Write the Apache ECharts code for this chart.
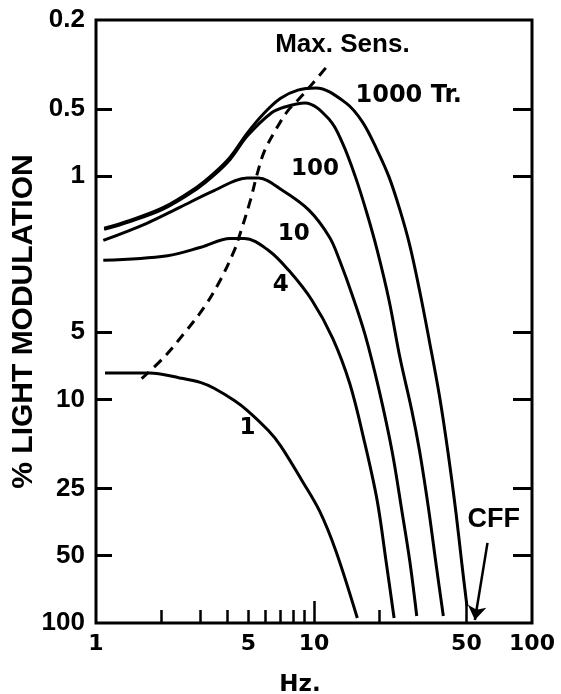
<!DOCTYPE html>
<html>
<head>
<meta charset="utf-8">
<script src="https://cdn.jsdelivr.net/npm/echarts@6/dist/echarts.min.js"></script>
<style>
html, body { margin: 0; padding: 0; background: #fff; }
#chart { width: 561px; height: 694px; }
</style>
</head>
<body>
<div id="chart"></div>
<script>
// values: [Hz, % light modulation]
const tr1000 = [[1.09,1.71],[1.42,1.58],[2.04,1.38],[2.9,1.12],[3.48,0.97],[4.13,0.82],[4.95,0.64],[5.93,0.52],[7.03,0.448],[8.43,0.412],[10.2,0.403],[14,0.47],[16.7,0.573],[19.5,0.766],[22.1,1.01],[24.8,1.42],[27.5,2.04],[30.5,3.25],[33.8,5.45],[37.6,9.6],[41.2,17.3],[44.8,32.1],[47.8,55.6],[50.3,84]];
const tr100 = [[1.09,1.73],[1.42,1.6],[2.04,1.4],[2.9,1.14],[3.48,0.99],[4.13,0.84],[4.95,0.66],[6.39,0.52],[7.34,0.49],[9.08,0.47],[11.8,0.56],[13.5,0.71],[15.5,1.01],[17.5,1.47],[19.5,2.15],[22.1,3.6],[24.8,6.5],[28.1,11.2],[30.5,17],[33.5,30.6],[36.4,55.6],[39.2,93]];
const tr10 = [[1.08,1.94],[1.7,1.63],[2.42,1.38],[3.48,1.16],[4.95,1.02],[5.56,1.02],[7.18,1.16],[9.48,1.42],[11.8,1.88],[13.1,2.38],[15,3.42],[17.2,5.17],[19.9,9.1],[22.8,17],[25.3,31.5],[27.5,52.8],[29.6,93]];
const tr4 = [[1.08,2.38],[2.13,2.27],[3.03,2.08],[4.13,1.9],[4.79,1.9],[6.19,2.15],[7.66,2.64],[9.8,3.6],[12.2,5.33],[14.6,8.5],[17,15.3],[19.5,28.4],[21.4,52.8],[23.3,95]];
const tr1 = [[1.1,7.6],[1.76,7.6],[2.42,8.0],[3.03,8.4],[3.48,8.9],[4.31,10.1],[4.95,11.2],[6.19,13.8],[7.03,16.1],[8.8,23],[10.6,31.5],[12.6,47.6],[15.8,95]];
const maxSens = [[1.62,8.06],[2.04,6.5],[2.53,5.07],[3.13,3.87],[3.71,2.93],[4.31,2.15],[4.59,1.8],[5.11,1.28],[5.5,0.97],[5.93,0.77],[6.81,0.6],[7.58,0.51],[8.43,0.457],[9.9,0.383],[11.8,0.312]];

const xLabels = [1, 5, 10, 50, 100];
const xMinorTicks = [2, 3, 4, 5, 6, 7, 8, 9, 20];
const xMajorTicks = [10, 50];
const yLabels = [0.2, 0.5, 1, 5, 10, 25, 50, 100];
const yTicks = [0.5, 1, 5, 10, 25, 50];

const annoText = ['Max. Sens.', '1000 Tr.', '100', '10', '4', '1', 'CFF'];
const annoPos = [[13.5,0.259],[27.2,0.438],[10.1,0.93],[8.08,1.82],[7.03,3.08],[4.95,13.4],[66.7,34.6]];
const cffArrow = [[62.5,43.8],[54.7,97]];

const lg = v => Math.log10(v);
const toLog = arr => arr.map(p => [lg(p[0]), lg(p[1])]);
const fmt = v => String(parseFloat(Math.pow(10, v).toPrecision(3)));

const chart = echarts.init(document.getElementById('chart'));

const annoFonts = [
  { fontFamily: 'Liberation Sans', fontSize: 26 },
  { fontFamily: 'DejaVu Sans', fontSize: 24 },
  { fontFamily: 'DejaVu Sans', fontSize: 23 },
  { fontFamily: 'DejaVu Sans', fontSize: 23 },
  { fontFamily: 'DejaVu Sans', fontSize: 23 },
  { fontFamily: 'DejaVu Sans', fontSize: 23 },
  { fontFamily: 'Liberation Sans', fontSize: 27 }
];

function curve(name, data) {
  return {
    name: name,
    type: 'line',
    data: toLog(data),
    smooth: 0.35,
    symbol: 'none',
    lineStyle: { color: '#000', width: 3 }
  };
}

const yBase = {
  type: 'value',
  inverse: true,
  min: lg(0.2),
  max: 2,
  splitLine: { show: false },
  axisLine: { show: false, onZero: false }
};

const option = {
  animation: false,
  backgroundColor: '#fff',
  grid: {
    left: 96, top: 20, right: 29, bottom: 71,
    containLabel: false, outerBoundsMode: 'none',
    show: true, borderColor: '#000', borderWidth: 3
  },
  xAxis: [
    {
      type: 'value', min: 0, max: 2,
      splitLine: { show: false },
      axisLine: { show: false, onZero: false },
      axisTick: { show: true, inside: true, length: 13, customValues: xMinorTicks.map(lg),
        lineStyle: { color: '#000', width: 2.5 } },
      axisLabel: { customValues: xLabels.map(lg), formatter: fmt, margin: 10,
        color: '#000', fontFamily: 'DejaVu Sans', fontWeight: 'bold', fontSize: 22 },
      name: 'Hz.',
      nameLocation: 'middle',
      nameGap: 51,
      nameMoveOverlap: false,
      nameTextStyle: { color: '#000', fontFamily: 'DejaVu Sans', fontWeight: 'bold',
        fontSize: 23, padding: [0, 28, 0, 0] }
    },
    {
      type: 'value', min: 0, max: 2, position: 'bottom',
      splitLine: { show: false },
      axisLine: { show: false, onZero: false },
      axisTick: { show: true, inside: true, length: 22, customValues: xMajorTicks.map(lg),
        lineStyle: { color: '#000', width: 2.5 } },
      axisLabel: { show: false }
    }
  ],
  yAxis: [
    Object.assign({}, yBase, {
      position: 'left',
      axisTick: { show: true, inside: true, length: 16, customValues: yTicks.map(lg),
        lineStyle: { color: '#000', width: 3 } },
      axisLabel: { customValues: yLabels.map(lg), formatter: fmt, margin: 11,
        color: '#000', fontFamily: 'Liberation Sans', fontWeight: 'bold', fontSize: 26 },
      name: '% LIGHT MODULATION',
      nameLocation: 'middle',
      nameGap: 57,
      nameMoveOverlap: false,
      nameTextStyle: { color: '#000', fontFamily: 'Liberation Sans', fontWeight: 'bold', fontSize: 30 }
    }),
    Object.assign({}, yBase, {
      position: 'right',
      axisTick: { show: true, inside: true, length: 19, customValues: yTicks.map(lg),
        lineStyle: { color: '#000', width: 3 } },
      axisLabel: { show: false }
    })
  ],
  series: [
    curve('1000 Tr.', tr1000),
    curve('100', tr100),
    curve('10', tr10),
    curve('4', tr4),
    curve('1', tr1),
    {
      name: 'Max. Sens.',
      type: 'line',
      data: toLog(maxSens),
      smooth: 0.35,
      symbol: 'none',
      lineStyle: { color: '#000', width: 3, type: [10, 7] }
    },
    {
      name: 'labels',
      type: 'scatter',
      symbolSize: 1,
      itemStyle: { color: 'rgba(0,0,0,0)', opacity: 1 },
      silent: true,
      data: annoPos.map((p, i) => ({
        value: [lg(p[0]), lg(p[1])],
        name: annoText[i],
        label: Object.assign({ show: true, position: 'inside', formatter: annoText[i],
          color: '#000', fontWeight: 'bold' }, annoFonts[i])
      }))
    },
    {
      name: 'CFF arrow',
      type: 'line',
      data: [],
      color: '#000',
      markLine: {
        silent: true,
        symbol: ['none', 'arrow'],
        symbolSize: 14,
        label: { show: false },
        itemStyle: { color: '#000' },
        lineStyle: { color: '#000', width: 2.5, type: 'solid', opacity: 1 },
        data: [[{ coord: [lg(cffArrow[0][0]), lg(cffArrow[0][1])] },
                { coord: [lg(cffArrow[1][0]), lg(cffArrow[1][1])] }]]
      }
    }
  ]
};

chart.setOption(option);
</script>
</body>
</html>
